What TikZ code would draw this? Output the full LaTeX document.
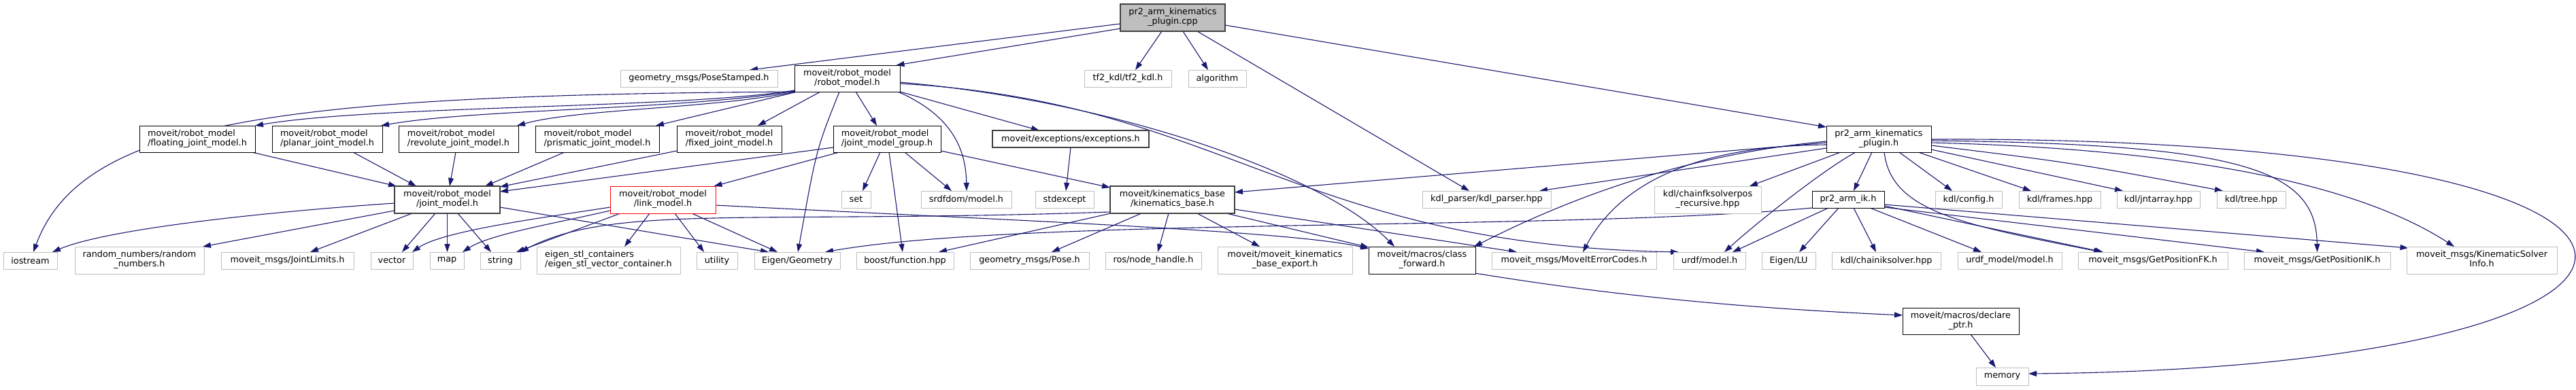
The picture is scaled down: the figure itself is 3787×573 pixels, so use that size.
\documentclass[tikz,border=0pt]{standalone}
\usepackage{fontspec}
\setmainfont{DejaVu Sans}
\usetikzlibrary{arrows.meta,calc,backgrounds}
\definecolor{edgeblue}{HTML}{191970}
\definecolor{extgray}{HTML}{BFBFBF}
\definecolor{darkfour}{HTML}{404040}
\definecolor{rootfill}{HTML}{BFBFBF}
\newcommand\twol[2]{\begin{tabular}{@{}l@{}}#1\\\multicolumn{1}{@{}c@{}}{#2}\end{tabular}}
\tikzset{
  box/.style={rectangle, inner sep=0pt, outer sep=0pt, fill=white, line width=1pt,
    font=\fontsize{12.8}{14}\selectfont},
  sz/.style 2 args={minimum width=#1pt, minimum height=#2pt},
  ext/.style={box, draw=extgray},
  intl/.style={box, draw=black},
  dark/.style={box, draw=darkfour, line width=1.5pt},
  trunc/.style={box, draw=red},
  rootbox/.style={box, draw=darkfour, fill=rootfill, line width=1.3pt},
  dep/.style={draw=edgeblue, line width=1.1pt, -{Triangle[length=12pt,width=8pt]}},
}
\begin{document}
\begin{tikzpicture}[x=1pt,y=-1pt]
\useasboundingbox (0,0) rectangle (3787,573);
% nodes
\node[rootbox,sz={154}{40}] (cpp) at (1724,26) {\twol{pr2\_arm\_kinematics}{\_plugin.cpp}};
\node[ext,sz={231}{25}] (posest) at (1027.5,115.5) {geometry\_msgs/PoseStamped.h};
\node[intl,sz={155}{39}] (rmodel) at (1245.5,115.5) {\twol{moveit/robot\_model}{/robot\_model.h}};
\node[ext,sz={128}{25}] (tfkdl) at (1658,115.5) {tf2\_kdl/tf2\_kdl.h};
\node[ext,sz={85}{25}] (algo) at (1789.5,115.5) {algorithm};
\node[intl,sz={170}{39}] (floating) at (290,204.5) {\twol{moveit/robot\_model}{/floating\_joint\_model.h}};
\node[intl,sz={162}{39}] (planar) at (481,204.5) {\twol{moveit/robot\_model}{/planar\_joint\_model.h}};
\node[intl,sz={176}{39}] (revolute) at (674,204.5) {\twol{moveit/robot\_model}{/revolute\_joint\_model.h}};
\node[intl,sz={182}{39}] (prismatic) at (878,204.5) {\twol{moveit/robot\_model}{/prismatic\_joint\_model.h}};
\node[intl,sz={154}{39}] (fixed) at (1072,204.5) {\twol{moveit/robot\_model}{/fixed\_joint\_model.h}};
\node[intl,sz={158}{39}] (jmg) at (1304,204.5) {\twol{moveit/robot\_model}{/joint\_model\_group.h}};
\node[dark,sz={230}{25}] (exc) at (1574,204.5) {moveit/exceptions/exceptions.h};
\node[intl,sz={154}{39}] (pluginh) at (2762,204.5) {\twol{pr2\_arm\_kinematics}{\_plugin.h}};
\node[dark,sz={155}{40}] (jm) at (657.5,294) {\twol{moveit/robot\_model}{/joint\_model.h}};
\node[trunc,sz={155}{40}] (lm) at (974.5,294) {\twol{moveit/robot\_model}{/link\_model.h}};
\node[ext,sz={43}{25}] (setn) at (1258.5,293.5) {set};
\node[ext,sz={133}{25}] (srdf) at (1420.5,293.5) {srdfdom/model.h};
\node[ext,sz={86}{25}] (stdexc) at (1565,293.5) {stdexcept};
\node[dark,sz={183}{40}] (kinbase) at (1723.5,294) {\twol{moveit/kinematics\_base}{/kinematics\_base.h}};
\node[ext,sz={189}{25}] (kdlparser) at (2185.5,293.5) {kdl\_parser/kdl\_parser.hpp};
\node[ext,sz={157}{40}] (chainfk) at (2510.5,294) {\twol{kdl/chainfksolverpos}{\_recursive.hpp}};
\node[intl,sz={106}{25}] (pr2ik) at (2717,293.5) {pr2\_arm\_ik.h};
\node[ext,sz={98}{25}] (kconfig) at (2894,293.5) {kdl/config.h};
\node[ext,sz={120}{25}] (kframes) at (3028,293.5) {kdl/frames.hpp};
\node[ext,sz={122}{25}] (kjnt) at (3173,293.5) {kdl/jntarray.hpp};
\node[ext,sz={101}{25}] (ktree) at (3309.5,293.5) {kdl/tree.hpp};
\node[ext,sz={79}{25}] (iostream) at (44.5,383.5) {iostream};
\node[ext,sz={190}{40}] (randnum) at (205,383) {\twol{random\_numbers/random}{\_numbers.h}};
\node[ext,sz={195}{25}] (jlimits) at (422.5,383.5) {moveit\_msgs/JointLimits.h};
\node[ext,sz={62}{25}] (vector) at (576,383.5) {vector};
\node[ext,sz={50}{25}] (mapn) at (657,383.5) {map};
\node[ext,sz={59}{25}] (string) at (735.5,383.5) {string};
\node[ext,sz={211}{40}] (estl) at (894.5,383) {\twol{eigen\_stl\_containers}{/eigen\_stl\_vector\_container.h}};
\node[ext,sz={60}{25}] (utility) at (1054,383.5) {utility};
\node[ext,sz={126}{25}] (egeom) at (1172,383.5) {Eigen/Geometry};
\node[ext,sz={143}{25}] (boostfn) at (1330.5,383.5) {boost/function.hpp};
\node[ext,sz={175}{25}] (pose) at (1513.5,383.5) {geometry\_msgs/Pose.h};
\node[ext,sz={141}{25}] (nh) at (1695.5,383.5) {ros/node\_handle.h};
\node[ext,sz={198}{40}] (kbexport) at (1889,383) {\twol{moveit/moveit\_kinematics}{\_base\_export.h}};
\node[intl,sz={157}{40}] (cfwd) at (2090.5,383) {\twol{moveit/macros/class}{\_forward.h}};
\node[ext,sz={242}{25}] (errc) at (2314,383.5) {moveit\_msgs/MoveItErrorCodes.h};
\node[ext,sz={106}{25}] (urdf) at (2513,383.5) {urdf/model.h};
\node[ext,sz={79}{25}] (elu) at (2629.5,383.5) {Eigen/LU};
\node[ext,sz={160}{25}] (chainik) at (2773,383.5) {kdl/chainiksolver.hpp};
\node[ext,sz={153}{25}] (urdfm) at (2954.5,383.5) {urdf\_model/model.h};
\node[ext,sz={220}{25}] (gfk) at (3165,383.5) {moveit\_msgs/GetPositionFK.h};
\node[ext,sz={215}{25}] (gik) at (3406.5,383.5) {moveit\_msgs/GetPositionIK.h};
\node[ext,sz={221}{40}] (ksi) at (3648.5,383) {\twol{moveit\_msgs/KinematicSolver}{Info.h}};
\node[intl,sz={171}{39}] (declptr) at (2882.5,472.5) {\twol{moveit/macros/declare}{\_ptr.h}};
\node[ext,sz={77}{26}] (memory) at (2943.5,554) {memory};

\begin{scope}[on background layer]
\fill[white] (0,0) rectangle (3787,573);
% root
\draw[dep] ($(cpp)+(-77,9)$) -- ($(posest)+(74.5,-12.5)$);
\draw[dep] ($(cpp)+(-77,16)$) -- ($(rmodel)+(72,-19.5)$);
\draw[dep] ($(cpp)+(-16,20)$) -- ($(tfkdl)+(11,-12.5)$);
\draw[dep] ($(cpp)+(15,20)$) -- ($(algo)+(-13.5,-12.5)$);
\draw[dep] ($(cpp)+(77,11)$) -- ($(pluginh)+(-77,-17.5)$);
\draw[dep] ($(cpp)+(36,20)$) -- ($(kdlparser)+(-25.5,-12.5)$);
% robot_model
\draw[dep] ($(rmodel)+(-77.5,17.5)$) .. controls (1000,160) and (550,155) .. ($(floating)+(85,-19.5)$);
\draw[dep] ($(rmodel)+(-77.5,18.5)$) .. controls (1000,162) and (700,160) .. ($(planar)+(79,-19.5)$);
\draw[dep] ($(rmodel)+(-76.5,19.5)$) .. controls (1050,160) and (850,160) .. ($(revolute)+(86,-19.5)$);
\draw[dep] ($(rmodel)+(-73.5,19.5)$) -- ($(prismatic)+(86,-19.5)$);
\draw[dep] ($(rmodel)+(-39.5,19.5)$) -- ($(fixed)+(42,-19.5)$);
\draw[dep] ($(rmodel)+(12.5,19.5)$) -- ($(jmg)+(-15,-19.5)$);
\draw[dep] ($(rmodel)+(-11.5,19.5)$) .. controls (1200,220) .. ($(egeom)+(1,-12.5)$);
\draw[dep] ($(rmodel)+(74.5,19.5)$) .. controls (1400,170) and (1420,220) .. ($(srdf)+(0.5,-12.5)$);
\draw[dep] ($(rmodel)+(77.5,19.5)$) -- ($(exc)+(-46,-12.5)$);
\draw[dep] ($(rmodel)+(-77.5,19.5)$) .. controls (400,140) and (120,180) .. ($(iostream)+(4.5,-12.5)$);
\draw[dep] ($(rmodel)+(77.5,5.5)$) .. controls (1650,150) and (1950,260) .. ($(cfwd)+(-40.5,-20)$);
\draw[dep] ($(rmodel)+(77.5,7.5)$) .. controls (1800,150) and (1900,360) .. ($(urdf)+(-45,-12.5)$);
% joint_model_group
\draw[dep] ($(jmg)+(-79,12.5)$) -- ($(jm)+(77.5,-12)$);
\draw[dep] ($(jmg)+(-70,19.5)$) -- ($(lm)+(75,-20)$);
\draw[dep] ($(jmg)+(-10,19.5)$) -- ($(setn)+(9.5,-12.5)$);
\draw[dep] ($(jmg)+(3,19.5)$) -- ($(boostfn)+(-3.5,-12.5)$);
\draw[dep] ($(jmg)+(26,19.5)$) -- ($(srdf)+(-21.5,-12.5)$);
\draw[dep] ($(jmg)+(79,17.5)$) -- ($(kinbase)+(-91.5,-18)$);
% joint types
\draw[dep] ($(floating)+(80,19.5)$) -- ($(jm)+(-74.5,-20)$);
\draw[dep] ($(planar)+(38,19.5)$) -- ($(jm)+(-45.5,-20)$);
\draw[dep] ($(revolute)+(-4,19.5)$) -- ($(jm)+(3.5,-20)$);
\draw[dep] ($(prismatic)+(-48,19.5)$) -- ($(jm)+(55.5,-20)$);
\draw[dep] ($(fixed)+(-77,17.5)$) -- ($(jm)+(77.5,-19)$);
\draw[dep] ($(exc)+(0,12.5)$) -- ($(stdexc)+(2,-12.5)$);
% joint_model
\draw[dep] ($(jm)+(-77.5,5)$) .. controls (350,315) and (150,340) .. ($(iostream)+(32.5,-12.5)$);
\draw[dep] ($(jm)+(-77.5,16)$) -- ($(randnum)+(93,-20)$);
\draw[dep] ($(jm)+(-51.5,20)$) -- ($(jlimits)+(33.5,-12.5)$);
\draw[dep] ($(jm)+(-17.5,20)$) -- ($(vector)+(15,-12.5)$);
\draw[dep] ($(jm)+(0,20)$) -- ($(mapn)+(0.5,-12.5)$);
\draw[dep] ($(jm)+(15.5,20)$) -- ($(string)+(-13.5,-12.5)$);
\draw[dep] ($(jm)+(77.5,11)$) -- ($(egeom)+(-42,-12.5)$);
% link_model
\draw[dep] ($(lm)+(-77.5,11)$) .. controls (800,320) and (650,340) .. ($(vector)+(30,-12.5)$);
\draw[dep] ($(lm)+(-77.5,16)$) .. controls (810,330) and (720,345) .. ($(mapn)+(23,-12.5)$);
\draw[dep] ($(lm)+(-62.5,20)$) -- ($(string)+(23.5,-12.5)$);
\draw[dep] ($(lm)+(-19.5,20)$) -- ($(estl)+(23.5,-20)$);
\draw[dep] ($(lm)+(17.5,20)$) -- ($(utility)+(-19,-12.5)$);
\draw[dep] ($(lm)+(42.5,20)$) -- ($(egeom)+(-29,-12.5)$);
\draw[dep] ($(lm)+(77.5,8)$) .. controls (1500,325) and (1900,340) .. ($(cfwd)+(-78.5,-17)$);
% kinematics_base
\draw[dep] ($(kinbase)+(-90.5,20)$) -- ($(boostfn)+(49.5,-12.5)$);
\draw[dep] ($(kinbase)+(-45.5,20)$) -- ($(pose)+(32.5,-12.5)$);
\draw[dep] ($(kinbase)+(-5.5,20)$) -- ($(nh)+(6.5,-12.5)$);
\draw[dep] ($(kinbase)+(36.5,20)$) -- ($(kbexport)+(-37,-20)$);
\draw[dep] ($(kinbase)+(79.5,20)$) -- ($(cfwd)+(-78.5,-19)$);
\draw[dep] ($(kinbase)+(91.5,14)$) -- ($(errc)+(-84,-12.5)$);
\draw[dep] ($(kinbase)+(-91.5,18)$) .. controls (1100,330) and (900,300) .. ($(string)+(29.5,-12.5)$);
% class_forward, declare_ptr
\draw[dep] ($(cfwd)+(77.5,19)$) .. controls (2400,440) and (2600,455) .. ($(declptr)+(-85.5,-8.5)$);
\draw[dep] ($(declptr)+(14.5,19.5)$) -- ($(memory)+(-9.5,-13)$);
% plugin.h
\draw[dep] ($(pluginh)+(-77,5.5)$) -- ($(kinbase)+(91.5,-11)$);
\draw[dep] ($(pluginh)+(-77,13.5)$) -- ($(kdlparser)+(77.5,-12.5)$);
\draw[dep] ($(pluginh)+(-77,3.5)$) .. controls (2500,225) and (2330,280) .. ($(cfwd)+(76.5,-20)$);
\draw[dep] ($(pluginh)+(-77,8.5)$) .. controls (2460,215) and (2370,290) .. ($(errc)+(13,-12.5)$);
\draw[dep] ($(pluginh)+(-56,19.5)$) -- ($(chainfk)+(61.5,-20)$);
\draw[dep] ($(pluginh)+(-34,19.5)$) .. controls (2680,250) and (2580,330) .. ($(urdf)+(22,-12.5)$);
\draw[dep] ($(pluginh)+(-10,19.5)$) -- ($(pr2ik)+(8,-12.5)$);
\draw[dep] ($(pluginh)+(8,19.5)$) .. controls (2780,310) and (2880,330) .. ($(gfk)+(-75,-12.5)$);
\draw[dep] ($(pluginh)+(30,19.5)$) -- ($(kconfig)+(-24,-12.5)$);
\draw[dep] ($(pluginh)+(58,19.5)$) -- ($(kframes)+(-42,-12.5)$);
\draw[dep] ($(pluginh)+(77,15.5)$) -- ($(kjnt)+(-52,-12.5)$);
\draw[dep] ($(pluginh)+(77,9.5)$) .. controls (3050,240) .. ($(ktree)+(-41.5,-12.5)$);
\draw[dep] ($(pluginh)+(77,2.5)$) .. controls (3300,212) and (3405,250) .. ($(gik)+(0,-12.5)$);
\draw[dep] ($(pluginh)+(77,5.5)$) .. controls (3250,220) and (3480,280) .. ($(ksi)+(-40.5,-20)$);
\draw[dep] ($(pluginh)+(77,0.5)$) .. controls (4100,200) and (4050,540) .. ($(memory)+(38.5,-4)$);
% pr2_arm_ik
\draw[dep] ($(pr2ik)+(-53,12.5)$) .. controls (2300,340) and (1500,320) .. ($(egeom)+(41,-12.5)$);
\draw[dep] ($(pr2ik)+(-29,12.5)$) -- ($(urdf)+(34,-12.5)$);
\draw[dep] ($(pr2ik)+(-14,12.5)$) -- ($(elu)+(15.5,-12.5)$);
\draw[dep] ($(pr2ik)+(8,12.5)$) -- ($(chainik)+(-15,-12.5)$);
\draw[dep] ($(pr2ik)+(32,12.5)$) -- ($(urdfm)+(-41.5,-12.5)$);
\draw[dep] ($(pr2ik)+(53,9.5)$) -- ($(gfk)+(-73,-12.5)$);
\draw[dep] ($(pr2ik)+(53,11.5)$) -- ($(gik)+(-77.5,-12.5)$);
\draw[dep] ($(pr2ik)+(53,7.5)$) -- ($(ksi)+(-108,-18)$);
\end{scope}
\end{tikzpicture}
\end{document}
